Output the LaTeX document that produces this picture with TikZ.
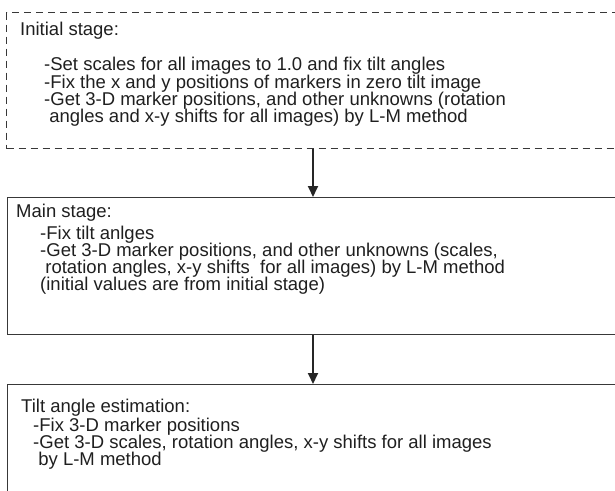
\documentclass[tikz,border=0pt]{standalone}
\usepackage{fontspec}
\setmainfont{Liberation Sans}
\usetikzlibrary{arrows.meta}
\begin{document}
\begin{tikzpicture}[x=1pt,y=1pt,
  stagebox/.style={draw=black!78,line width=1.3pt,rectangle,minimum width=640pt,anchor=north west,inner sep=0pt},
  txt/.style={anchor=base west,inner sep=0pt,font=\fontsize{18.5}{20}\selectfont,text=black!88},
  arr/.style={draw=black!85,line width=1.8pt,-{Triangle[width=10pt,length=11pt]}}]
\useasboundingbox (0,0) rectangle (615,-490);
\clip (0,0) rectangle (615,-490);
\node[stagebox,dashed,dash pattern=on 7pt off 5pt,minimum height=136pt] (b1) at (6,-12) {};
\node[stagebox,minimum height=137pt] (b2) at (7,-197) {};
\node[stagebox,minimum height=140pt] (b3) at (7,-384) {};
% box 1 text
\node[txt] (t11) at (20,-35) {Initial stage:};
\node[txt] (t12) at (44,-70) {-Set scales for all images to 1.0 and fix tilt angles};
\node[txt] (t13) at (44,-88) {-Fix the x and y positions of markers in zero tilt image};
\node[txt] (t14) at (44,-105) {-Get 3-D marker positions, and other unknowns (rotation};
\node[txt] (t15) at (44,-122) {\ angles and x-y shifts for all images) by L-M method};
% box 2 text
\node[txt] (t21) at (16,-217) {Main stage:};
\node[txt] (t22) at (40,-239) {-Fix tilt anlges};
\node[txt] (t23) at (40,-256) {-Get 3-D marker positions, and other unknowns (scales,};
\node[txt] (t24) at (40,-273) {\ rotation angles, x-y shifts\ \ for all images) by L-M method};
\node[txt] (t25) at (40,-290) {(initial values are from initial stage)};
% box 3 text
\node[txt] (t31) at (21,-412) {Tilt angle estimation:};
\node[txt] (t32) at (33,-431) {-Fix 3-D marker positions};
\node[txt] (t33) at (33,-448) {-Get 3-D scales, rotation angles, x-y shifts for all images};
\node[txt] (t34) at (33,-465) {\ by L-M method};
% arrows
\coordinate (ax) at (313,0);
\draw[arr] (b1.south -| ax) -- (b2.north -| ax);
\draw[arr] (b2.south -| ax) -- (b3.north -| ax);
\end{tikzpicture}
\end{document}
